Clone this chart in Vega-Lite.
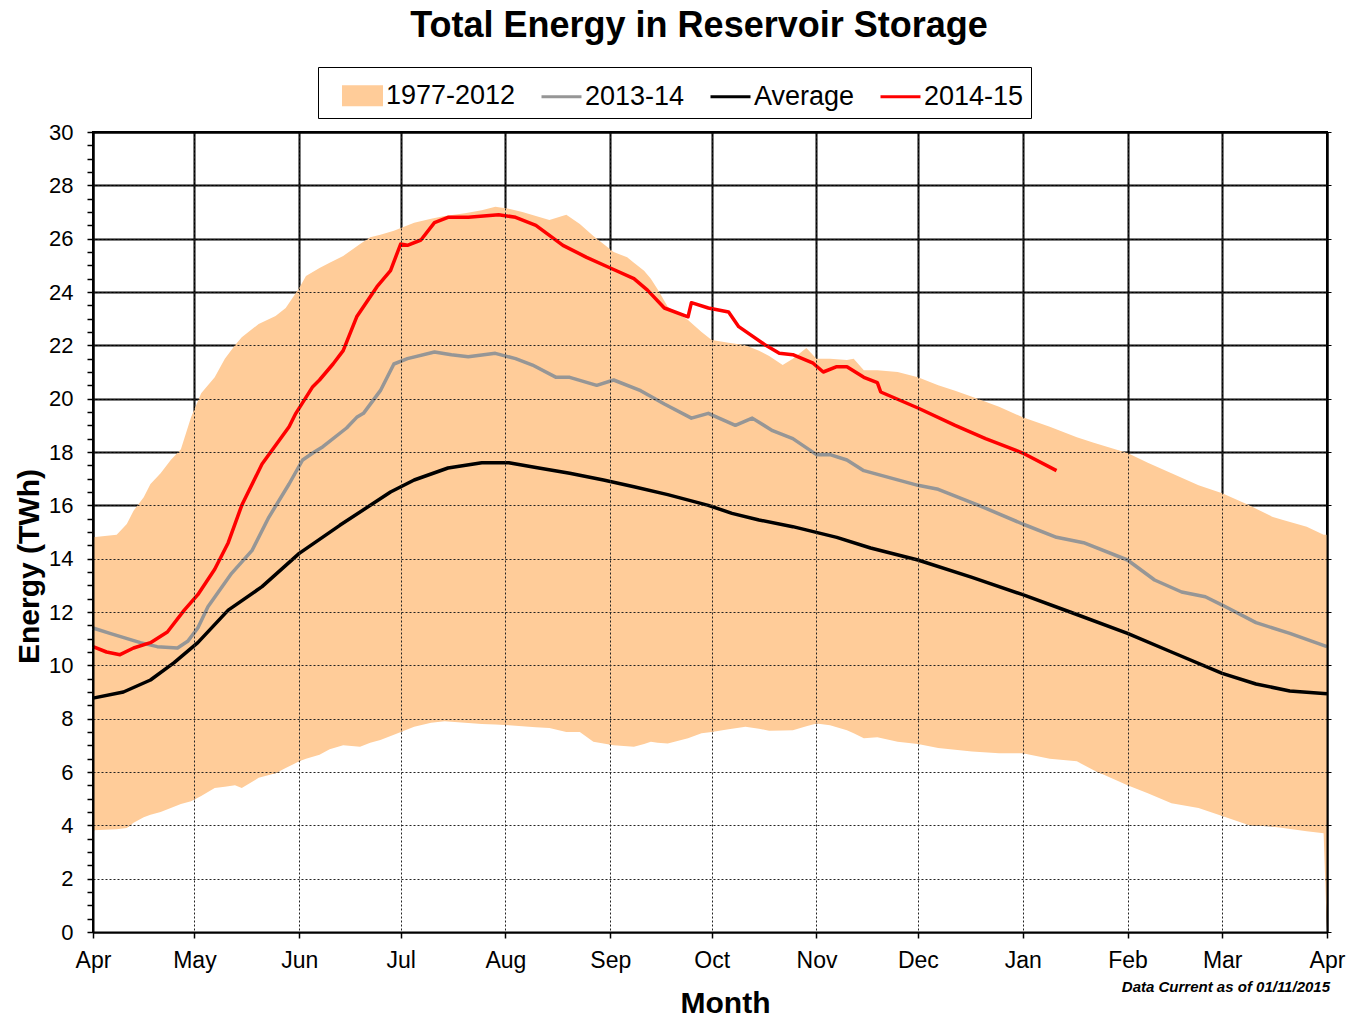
{
  "$schema": "https://vega.github.io/schema/vega-lite/v6.json",
  "width": 1234,
  "height": 800,
  "autosize": {"type": "none"},
  "padding": {"left": 93, "top": 132, "right": 21, "bottom": 90},
  "background": "white",
  "config": {"font": "Liberation Sans", "view": {"stroke": "black", "strokeWidth": 2}},
  "title": {"text": "Total Energy in Reservoir Storage", "font": "Liberation Sans", "fontSize": 36, "fontWeight": "bold", "anchor": "middle", "dx": -11, "offset": 22, "color": "black"},
  "datasets": {
    "band": [
      {"date": "2014-04-01", "lower": 3.82, "upper": 14.8},
      {"date": "2014-04-08", "lower": 3.85, "upper": 14.9},
      {"date": "2014-04-11", "lower": 3.9, "upper": 15.3},
      {"date": "2014-04-13", "lower": 4.1, "upper": 15.8},
      {"date": "2014-04-16", "lower": 4.3, "upper": 16.3},
      {"date": "2014-04-18", "lower": 4.4, "upper": 16.8},
      {"date": "2014-04-21", "lower": 4.5, "upper": 17.2},
      {"date": "2014-04-24", "lower": 4.65, "upper": 17.7},
      {"date": "2014-04-27", "lower": 4.8, "upper": 18.1},
      {"date": "2014-04-30", "lower": 4.9, "upper": 19.3},
      {"date": "2014-05-03", "lower": 5.1, "upper": 20.2},
      {"date": "2014-05-07", "lower": 5.4, "upper": 20.8},
      {"date": "2014-05-10", "lower": 5.45, "upper": 21.5},
      {"date": "2014-05-13", "lower": 5.5, "upper": 22.0},
      {"date": "2014-05-15", "lower": 5.4, "upper": 22.3},
      {"date": "2014-05-20", "lower": 5.78, "upper": 22.8},
      {"date": "2014-05-25", "lower": 5.95, "upper": 23.1},
      {"date": "2014-05-28", "lower": 6.15, "upper": 23.4},
      {"date": "2014-06-01", "lower": 6.4, "upper": 24.15},
      {"date": "2014-06-03", "lower": 6.5, "upper": 24.6},
      {"date": "2014-06-07", "lower": 6.65, "upper": 24.9},
      {"date": "2014-06-10", "lower": 6.85, "upper": 25.1},
      {"date": "2014-06-14", "lower": 7.0, "upper": 25.35},
      {"date": "2014-06-19", "lower": 6.95, "upper": 25.8},
      {"date": "2014-06-22", "lower": 7.1, "upper": 26.05},
      {"date": "2014-06-25", "lower": 7.2, "upper": 26.15},
      {"date": "2014-06-29", "lower": 7.4, "upper": 26.3},
      {"date": "2014-07-05", "lower": 7.7, "upper": 26.6},
      {"date": "2014-07-10", "lower": 7.85, "upper": 26.75},
      {"date": "2014-07-14", "lower": 7.9, "upper": 26.85},
      {"date": "2014-07-20", "lower": 7.85, "upper": 26.95},
      {"date": "2014-07-25", "lower": 7.8, "upper": 27.07},
      {"date": "2014-07-29", "lower": 7.78, "upper": 27.2},
      {"date": "2014-08-02", "lower": 7.75, "upper": 27.12},
      {"date": "2014-08-06", "lower": 7.72, "upper": 27.0},
      {"date": "2014-08-10", "lower": 7.68, "upper": 26.85},
      {"date": "2014-08-14", "lower": 7.65, "upper": 26.7},
      {"date": "2014-08-19", "lower": 7.5, "upper": 26.9},
      {"date": "2014-08-23", "lower": 7.5, "upper": 26.55},
      {"date": "2014-08-27", "lower": 7.13, "upper": 26.1},
      {"date": "2014-09-02", "lower": 7.0, "upper": 25.5},
      {"date": "2014-09-06", "lower": 6.97, "upper": 25.3},
      {"date": "2014-09-08", "lower": 6.95, "upper": 25.1},
      {"date": "2014-09-11", "lower": 7.05, "upper": 24.8},
      {"date": "2014-09-13", "lower": 7.13, "upper": 24.5},
      {"date": "2014-09-15", "lower": 7.1, "upper": 24.1},
      {"date": "2014-09-18", "lower": 7.07, "upper": 23.45},
      {"date": "2014-09-24", "lower": 7.27, "upper": 22.95},
      {"date": "2014-09-28", "lower": 7.45, "upper": 22.5},
      {"date": "2014-10-01", "lower": 7.5, "upper": 22.2},
      {"date": "2014-10-06", "lower": 7.6, "upper": 22.1},
      {"date": "2014-10-11", "lower": 7.7, "upper": 22.0},
      {"date": "2014-10-15", "lower": 7.62, "upper": 21.8},
      {"date": "2014-10-18", "lower": 7.55, "upper": 21.6},
      {"date": "2014-10-22", "lower": 7.56, "upper": 21.26},
      {"date": "2014-10-25", "lower": 7.57, "upper": 21.5},
      {"date": "2014-10-29", "lower": 7.72, "upper": 21.9},
      {"date": "2014-11-01", "lower": 7.82, "upper": 21.5},
      {"date": "2014-11-05", "lower": 7.75, "upper": 21.5},
      {"date": "2014-11-10", "lower": 7.57, "upper": 21.45},
      {"date": "2014-11-12", "lower": 7.45, "upper": 21.5},
      {"date": "2014-11-15", "lower": 7.27, "upper": 21.07},
      {"date": "2014-11-19", "lower": 7.3, "upper": 21.07},
      {"date": "2014-11-25", "lower": 7.13, "upper": 21.0},
      {"date": "2014-12-01", "lower": 7.05, "upper": 20.8},
      {"date": "2014-12-07", "lower": 6.9, "upper": 20.5},
      {"date": "2014-12-12", "lower": 6.83, "upper": 20.3},
      {"date": "2014-12-17", "lower": 6.77, "upper": 20.07},
      {"date": "2014-12-25", "lower": 6.7, "upper": 19.7},
      {"date": "2015-01-01", "lower": 6.7, "upper": 19.3},
      {"date": "2015-01-09", "lower": 6.5, "upper": 18.95},
      {"date": "2015-01-17", "lower": 6.4, "upper": 18.55},
      {"date": "2015-01-22", "lower": 6.07, "upper": 18.35},
      {"date": "2015-02-01", "lower": 5.5, "upper": 17.96},
      {"date": "2015-02-07", "lower": 5.2, "upper": 17.6},
      {"date": "2015-02-14", "lower": 4.83, "upper": 17.2},
      {"date": "2015-02-22", "lower": 4.65, "upper": 16.75},
      {"date": "2015-03-01", "lower": 4.35, "upper": 16.45},
      {"date": "2015-03-09", "lower": 4.0, "upper": 16.0},
      {"date": "2015-03-16", "lower": 3.95, "upper": 15.56},
      {"date": "2015-03-19", "lower": 3.9, "upper": 15.45},
      {"date": "2015-03-26", "lower": 3.78, "upper": 15.2},
      {"date": "2015-03-31", "lower": 3.7, "upper": 14.9},
      {"date": "2015-04-01", "lower": 0, "upper": 14.9}
    ],
    "lines": [
      {"date": "2014-04-01", "series": "Average", "value": 8.77},
      {"date": "2014-04-10", "series": "Average", "value": 9.0},
      {"date": "2014-04-18", "series": "Average", "value": 9.45},
      {"date": "2014-04-25", "series": "Average", "value": 10.1},
      {"date": "2014-05-02", "series": "Average", "value": 10.85},
      {"date": "2014-05-11", "series": "Average", "value": 12.07},
      {"date": "2014-05-21", "series": "Average", "value": 12.95},
      {"date": "2014-06-01", "series": "Average", "value": 14.2},
      {"date": "2014-06-13", "series": "Average", "value": 15.25},
      {"date": "2014-06-28", "series": "Average", "value": 16.5},
      {"date": "2014-07-05", "series": "Average", "value": 16.95},
      {"date": "2014-07-15", "series": "Average", "value": 17.4},
      {"date": "2014-07-25", "series": "Average", "value": 17.6},
      {"date": "2014-08-02", "series": "Average", "value": 17.6},
      {"date": "2014-08-10", "series": "Average", "value": 17.42},
      {"date": "2014-08-20", "series": "Average", "value": 17.2},
      {"date": "2014-08-30", "series": "Average", "value": 16.95},
      {"date": "2014-09-08", "series": "Average", "value": 16.7},
      {"date": "2014-09-18", "series": "Average", "value": 16.4},
      {"date": "2014-09-30", "series": "Average", "value": 16.0},
      {"date": "2014-10-07", "series": "Average", "value": 15.7},
      {"date": "2014-10-15", "series": "Average", "value": 15.45},
      {"date": "2014-10-25", "series": "Average", "value": 15.2},
      {"date": "2014-11-07", "series": "Average", "value": 14.8},
      {"date": "2014-11-17", "series": "Average", "value": 14.4},
      {"date": "2014-12-01", "series": "Average", "value": 13.95},
      {"date": "2014-12-17", "series": "Average", "value": 13.3},
      {"date": "2015-01-01", "series": "Average", "value": 12.65},
      {"date": "2015-01-15", "series": "Average", "value": 12.0},
      {"date": "2015-02-01", "series": "Average", "value": 11.2},
      {"date": "2015-02-14", "series": "Average", "value": 10.5},
      {"date": "2015-03-01", "series": "Average", "value": 9.7},
      {"date": "2015-03-11", "series": "Average", "value": 9.3},
      {"date": "2015-03-21", "series": "Average", "value": 9.04},
      {"date": "2015-04-01", "series": "Average", "value": 8.93},

      {"date": "2014-04-01", "series": "2013-14", "value": 11.4},
      {"date": "2014-04-06", "series": "2013-14", "value": 11.2},
      {"date": "2014-04-15", "series": "2013-14", "value": 10.85},
      {"date": "2014-04-20", "series": "2013-14", "value": 10.7},
      {"date": "2014-04-26", "series": "2013-14", "value": 10.65},
      {"date": "2014-04-29", "series": "2013-14", "value": 10.9},
      {"date": "2014-05-02", "series": "2013-14", "value": 11.4},
      {"date": "2014-05-05", "series": "2013-14", "value": 12.2},
      {"date": "2014-05-12", "series": "2013-14", "value": 13.45},
      {"date": "2014-05-18", "series": "2013-14", "value": 14.3},
      {"date": "2014-05-23", "series": "2013-14", "value": 15.55},
      {"date": "2014-05-29", "series": "2013-14", "value": 16.8},
      {"date": "2014-06-02", "series": "2013-14", "value": 17.7},
      {"date": "2014-06-05", "series": "2013-14", "value": 17.96},
      {"date": "2014-06-08", "series": "2013-14", "value": 18.2},
      {"date": "2014-06-15", "series": "2013-14", "value": 18.9},
      {"date": "2014-06-18", "series": "2013-14", "value": 19.3},
      {"date": "2014-06-20", "series": "2013-14", "value": 19.45},
      {"date": "2014-06-25", "series": "2013-14", "value": 20.3},
      {"date": "2014-06-29", "series": "2013-14", "value": 21.3},
      {"date": "2014-07-03", "series": "2013-14", "value": 21.5},
      {"date": "2014-07-11", "series": "2013-14", "value": 21.75},
      {"date": "2014-07-16", "series": "2013-14", "value": 21.65},
      {"date": "2014-07-21", "series": "2013-14", "value": 21.57},
      {"date": "2014-07-29", "series": "2013-14", "value": 21.7},
      {"date": "2014-08-04", "series": "2013-14", "value": 21.5},
      {"date": "2014-08-09", "series": "2013-14", "value": 21.26},
      {"date": "2014-08-16", "series": "2013-14", "value": 20.8},
      {"date": "2014-08-20", "series": "2013-14", "value": 20.8},
      {"date": "2014-08-28", "series": "2013-14", "value": 20.5},
      {"date": "2014-09-02", "series": "2013-14", "value": 20.7},
      {"date": "2014-09-10", "series": "2013-14", "value": 20.3},
      {"date": "2014-09-17", "series": "2013-14", "value": 19.8},
      {"date": "2014-09-25", "series": "2013-14", "value": 19.27},
      {"date": "2014-09-30", "series": "2013-14", "value": 19.45},
      {"date": "2014-10-08", "series": "2013-14", "value": 19.0},
      {"date": "2014-10-13", "series": "2013-14", "value": 19.27},
      {"date": "2014-10-19", "series": "2013-14", "value": 18.8},
      {"date": "2014-10-25", "series": "2013-14", "value": 18.5},
      {"date": "2014-11-01", "series": "2013-14", "value": 17.9},
      {"date": "2014-11-05", "series": "2013-14", "value": 17.9},
      {"date": "2014-11-10", "series": "2013-14", "value": 17.7},
      {"date": "2014-11-15", "series": "2013-14", "value": 17.3},
      {"date": "2014-12-01", "series": "2013-14", "value": 16.75},
      {"date": "2014-12-07", "series": "2013-14", "value": 16.6},
      {"date": "2014-12-19", "series": "2013-14", "value": 16.0},
      {"date": "2015-01-01", "series": "2013-14", "value": 15.3},
      {"date": "2015-01-11", "series": "2013-14", "value": 14.8},
      {"date": "2015-01-19", "series": "2013-14", "value": 14.6},
      {"date": "2015-02-01", "series": "2013-14", "value": 13.95},
      {"date": "2015-02-09", "series": "2013-14", "value": 13.2},
      {"date": "2015-02-17", "series": "2013-14", "value": 12.75},
      {"date": "2015-02-24", "series": "2013-14", "value": 12.57},
      {"date": "2015-03-01", "series": "2013-14", "value": 12.26},
      {"date": "2015-03-11", "series": "2013-14", "value": 11.6},
      {"date": "2015-03-21", "series": "2013-14", "value": 11.2},
      {"date": "2015-04-01", "series": "2013-14", "value": 10.7},

      {"date": "2014-04-01", "series": "2014-15", "value": 10.7},
      {"date": "2014-04-05", "series": "2014-15", "value": 10.5},
      {"date": "2014-04-09", "series": "2014-15", "value": 10.4},
      {"date": "2014-04-13", "series": "2014-15", "value": 10.65},
      {"date": "2014-04-18", "series": "2014-15", "value": 10.85},
      {"date": "2014-04-23", "series": "2014-15", "value": 11.25},
      {"date": "2014-04-28", "series": "2014-15", "value": 12.07},
      {"date": "2014-05-02", "series": "2014-15", "value": 12.65},
      {"date": "2014-05-07", "series": "2014-15", "value": 13.6},
      {"date": "2014-05-11", "series": "2014-15", "value": 14.6},
      {"date": "2014-05-15", "series": "2014-15", "value": 16.0},
      {"date": "2014-05-21", "series": "2014-15", "value": 17.55},
      {"date": "2014-05-29", "series": "2014-15", "value": 18.95},
      {"date": "2014-05-31", "series": "2014-15", "value": 19.45},
      {"date": "2014-06-05", "series": "2014-15", "value": 20.45},
      {"date": "2014-06-07", "series": "2014-15", "value": 20.7},
      {"date": "2014-06-11", "series": "2014-15", "value": 21.3},
      {"date": "2014-06-14", "series": "2014-15", "value": 21.8},
      {"date": "2014-06-18", "series": "2014-15", "value": 23.07},
      {"date": "2014-06-24", "series": "2014-15", "value": 24.2},
      {"date": "2014-06-28", "series": "2014-15", "value": 24.8},
      {"date": "2014-07-01", "series": "2014-15", "value": 25.8},
      {"date": "2014-07-03", "series": "2014-15", "value": 25.75},
      {"date": "2014-07-07", "series": "2014-15", "value": 25.95},
      {"date": "2014-07-11", "series": "2014-15", "value": 26.6},
      {"date": "2014-07-15", "series": "2014-15", "value": 26.8},
      {"date": "2014-07-21", "series": "2014-15", "value": 26.8},
      {"date": "2014-07-30", "series": "2014-15", "value": 26.9},
      {"date": "2014-08-04", "series": "2014-15", "value": 26.8},
      {"date": "2014-08-10", "series": "2014-15", "value": 26.5},
      {"date": "2014-08-18", "series": "2014-15", "value": 25.75},
      {"date": "2014-08-25", "series": "2014-15", "value": 25.3},
      {"date": "2014-09-01", "series": "2014-15", "value": 24.9},
      {"date": "2014-09-08", "series": "2014-15", "value": 24.5},
      {"date": "2014-09-12", "series": "2014-15", "value": 24.07},
      {"date": "2014-09-17", "series": "2014-15", "value": 23.4},
      {"date": "2014-09-24", "series": "2014-15", "value": 23.07},
      {"date": "2014-09-25", "series": "2014-15", "value": 23.6},
      {"date": "2014-09-30", "series": "2014-15", "value": 23.4},
      {"date": "2014-10-06", "series": "2014-15", "value": 23.25},
      {"date": "2014-10-09", "series": "2014-15", "value": 22.7},
      {"date": "2014-10-17", "series": "2014-15", "value": 22.0},
      {"date": "2014-10-21", "series": "2014-15", "value": 21.7},
      {"date": "2014-10-25", "series": "2014-15", "value": 21.65},
      {"date": "2014-10-31", "series": "2014-15", "value": 21.33},
      {"date": "2014-11-03", "series": "2014-15", "value": 21.0},
      {"date": "2014-11-07", "series": "2014-15", "value": 21.2},
      {"date": "2014-11-10", "series": "2014-15", "value": 21.2},
      {"date": "2014-11-15", "series": "2014-15", "value": 20.8},
      {"date": "2014-11-19", "series": "2014-15", "value": 20.6},
      {"date": "2014-11-20", "series": "2014-15", "value": 20.25},
      {"date": "2014-12-01", "series": "2014-15", "value": 19.65},
      {"date": "2014-12-12", "series": "2014-15", "value": 19.0},
      {"date": "2014-12-21", "series": "2014-15", "value": 18.5},
      {"date": "2015-01-01", "series": "2014-15", "value": 17.96},
      {"date": "2015-01-11", "series": "2014-15", "value": 17.3}
    ],
    "note": [
      {"date": "2015-04-01", "v": 0, "label": "Data Current as of 01/11/2015"}
    ]
  },
  "layer": [
    {
      "data": {"name": "band"},
      "mark": {"type": "area", "color": "white", "opacity": 1},
      "encoding": {
        "x": {
          "field": "date", "type": "temporal",
          "scale": {"type": "utc", "nice": false, "domain": [{"year": 2014, "month": "Apr", "date": 1, "utc": true}, {"year": 2015, "month": "Apr", "date": 1, "utc": true}]},
          "axis": {
            "orient": "top", "title": null, "labels": false, "ticks": false, "domain": false,
            "grid": true, "gridColor": "black", "gridWidth": 2, "zindex": 0,
            "values": [
              {"year": 2014, "month": "Apr", "date": 1, "utc": true},
              {"year": 2014, "month": "May", "date": 1, "utc": true},
              {"year": 2014, "month": "Jun", "date": 1, "utc": true},
              {"year": 2014, "month": "Jul", "date": 1, "utc": true},
              {"year": 2014, "month": "Aug", "date": 1, "utc": true},
              {"year": 2014, "month": "Sep", "date": 1, "utc": true},
              {"year": 2014, "month": "Oct", "date": 1, "utc": true},
              {"year": 2014, "month": "Nov", "date": 1, "utc": true},
              {"year": 2014, "month": "Dec", "date": 1, "utc": true},
              {"year": 2015, "month": "Jan", "date": 1, "utc": true},
              {"year": 2015, "month": "Feb", "date": 1, "utc": true},
              {"year": 2015, "month": "Mar", "date": 1, "utc": true},
              {"year": 2015, "month": "Apr", "date": 1, "utc": true}
            ]
          }
        },
        "y": {
          "field": "lower", "type": "quantitative",
          "scale": {"domain": [0, 30], "nice": false},
          "axis": {
            "orient": "right", "title": null, "labels": false, "ticks": false, "domain": false,
            "grid": true, "gridColor": "black", "gridWidth": 2, "zindex": 0,
            "values": [0, 2, 4, 6, 8, 10, 12, 14, 16, 18, 20, 22, 24, 26, 28, 30]
          }
        },
        "y2": {"datum": 0}
      }
    },
    {
      "data": {"name": "band"},
      "mark": {"type": "area", "color": "#FFCC99", "opacity": 1},
      "encoding": {
        "x": {
          "field": "date", "type": "temporal",
          "axis": {
            "orient": "bottom",
            "values": [
              {"year": 2014, "month": "Apr", "date": 1, "utc": true},
              {"year": 2014, "month": "May", "date": 1, "utc": true},
              {"year": 2014, "month": "Jun", "date": 1, "utc": true},
              {"year": 2014, "month": "Jul", "date": 1, "utc": true},
              {"year": 2014, "month": "Aug", "date": 1, "utc": true},
              {"year": 2014, "month": "Sep", "date": 1, "utc": true},
              {"year": 2014, "month": "Oct", "date": 1, "utc": true},
              {"year": 2014, "month": "Nov", "date": 1, "utc": true},
              {"year": 2014, "month": "Dec", "date": 1, "utc": true},
              {"year": 2015, "month": "Jan", "date": 1, "utc": true},
              {"year": 2015, "month": "Feb", "date": 1, "utc": true},
              {"year": 2015, "month": "Mar", "date": 1, "utc": true},
              {"year": 2015, "month": "Apr", "date": 1, "utc": true}
            ],
            "labelExpr": "utcFormat(datum.value, '%b')",
            "labelFlush": false, "labelOverlap": false,
            "labelFont": "Liberation Sans", "labelFontSize": 23, "labelColor": "black", "labelPadding": 11,
            "tickSize": 6, "tickColor": "black", "tickWidth": 1.5,
            "domain": true, "domainColor": "black", "domainWidth": 2,
            "grid": true, "gridColor": "#222222", "gridDash": [2, 2], "gridWidth": 1,
            "title": "Month", "titleFont": "Liberation Sans", "titleFontSize": 30, "titleFontWeight": "bold", "titleColor": "black",
            "titleX": 632, "titleY": 71, "titleBaseline": "middle", "titleAlign": "center",
            "zindex": 1
          }
        },
        "y": {
          "field": "upper", "type": "quantitative",
          "axis": {
            "orient": "left",
            "values": [0, 0.5, 1, 1.5, 2, 2.5, 3, 3.5, 4, 4.5, 5, 5.5, 6, 6.5, 7, 7.5, 8, 8.5, 9, 9.5, 10, 10.5, 11, 11.5, 12, 12.5, 13, 13.5, 14, 14.5, 15, 15.5, 16, 16.5, 17, 17.5, 18, 18.5, 19, 19.5, 20, 20.5, 21, 21.5, 22, 22.5, 23, 23.5, 24, 24.5, 25, 25.5, 26, 26.5, 27, 27.5, 28, 28.5, 29, 29.5, 30],
            "labelExpr": "datum.value % 2 === 0 ? format(datum.value, 'd') : ''",
            "labelOverlap": false, "labelBound": false,
            "labelFont": "Liberation Sans", "labelFontSize": 22, "labelColor": "black", "labelPadding": 14,
            "tickSize": 6, "tickColor": "black", "tickWidth": 1.5,
            "domain": true, "domainColor": "black", "domainWidth": 2,
            "grid": true, "gridColor": "#222222", "gridDash": [2, 2], "gridWidth": 1,
            "gridOpacity": {"condition": {"test": "datum.value % 2 === 0", "value": 1}, "value": 0},
            "title": "Energy (TWh)", "titleFont": "Liberation Sans", "titleFontSize": 30, "titleFontWeight": "bold", "titleColor": "black",
            "titleAngle": 270, "titleX": -64, "titleY": 434, "titleAlign": "center", "titleBaseline": "middle",
            "zindex": 1
          }
        },
        "y2": {"field": "lower"}
      }
    },
    {
      "data": {"name": "lines"},
      "mark": {"type": "line", "strokeWidth": 3.5, "strokeJoin": "round"},
      "encoding": {
        "x": {
          "field": "date", "type": "temporal",
          "axis": {"orient": "top", "title": null, "labels": false, "ticks": false, "grid": false, "domain": true, "domainColor": "black", "domainWidth": 2, "zindex": 1}
        },
        "y": {
          "field": "value", "type": "quantitative",
          "axis": {"orient": "right", "title": null, "labels": false, "grid": false, "domain": true, "domainColor": "black", "domainWidth": 2, "ticks": true, "tickSize": 4, "tickColor": "black", "zindex": 1, "values": [0, 2, 4, 6, 8, 10, 12, 14, 16, 18, 20, 22, 24, 26, 28, 30]}
        },
        "color": {
          "field": "series", "type": "nominal",
          "scale": {"domain": ["1977-2012", "2013-14", "Average", "2014-15"], "range": ["#FFCC99", "#969696", "#000000", "#FF0000"]},
          "legend": {
            "title": null, "orient": "none", "legendX": 225, "legendY": -65, "direction": "horizontal",
            "labelFont": "Liberation Sans", "labelFontSize": 27, "labelColor": "black", "labelOffset": 2,
            "labelExpr": "datum.value === '2014-15' ? datum.label + '\u00a0\u00a0' : datum.label",
            "symbolSize": 1600, "symbolStrokeWidth": 3, "symbolType": "stroke", "symbolOffset": 16,
            "columnPadding": 8, "padding": 7,
            "fillColor": "white", "strokeColor": "black",
            "encode": {
              "symbols": {
                "update": {
                  "shape": {"signal": "datum.value === '1977-2012' ? 'M-0.95,-0.45H0.95V0.45H-0.95Z' : 'stroke'"},
                  "fill": {"signal": "datum.value === '1977-2012' ? '#FFCC99' : 'transparent'"},
                  "stroke": {"signal": "datum.value === '1977-2012' ? 'transparent' : scale('color', datum.value)"},
                  "strokeWidth": {"value": 3}
                }
              }
            }
          }
        }
      }
    },
    {
      "data": {"name": "note"},
      "mark": {"type": "text", "align": "right", "baseline": "alphabetic", "dx": 3, "dy": 60, "font": "Liberation Sans", "fontSize": 15, "fontWeight": "bold", "fontStyle": "italic", "color": "black"},
      "encoding": {
        "x": {"field": "date", "type": "temporal", "axis": null},
        "y": {"field": "v", "type": "quantitative", "axis": null},
        "text": {"field": "label"}
      }
    }
  ],
  "resolve": {"axis": {"x": "independent", "y": "independent"}}
}
